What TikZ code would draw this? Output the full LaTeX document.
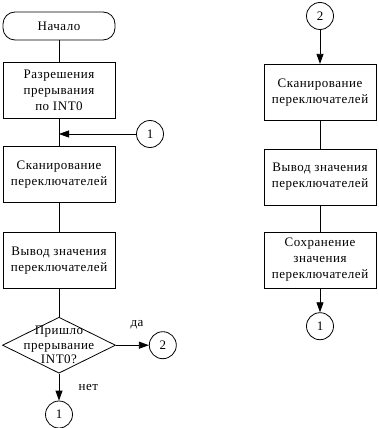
\documentclass[tikz,border=0pt]{standalone}
\usepackage{fontspec}
\setmainfont{Liberation Serif}[LetterSpace=4]
\usetikzlibrary{shapes.geometric,arrows.meta,positioning}

\begin{document}
\begin{tikzpicture}[x=1pt, y=1pt,
      node distance=27pt,
      every node/.style={font=\fontsize{13}{16}\selectfont},
      base/.style={draw, line width=0.8pt, minimum width=112pt,
                  align=center, inner sep=2pt},
      term/.style={base, rounded corners=12pt, minimum height=28pt},
      proc/.style={base, minimum height=56pt},
      decide/.style={draw, diamond, line width=0.8pt, minimum width=113pt,
                  minimum height=56pt, inner sep=0pt},
      conn/.style={draw, circle, line width=0.8pt, minimum size=27pt,
                  inner sep=0pt},
      line/.style={line width=0.8pt},
      arr/.style={line, -{Triangle[length=10pt,width=7pt]}}
    ]
    \useasboundingbox (0,0) rectangle (379,-428);
    \node[term] (start) at (59,-26) {Начало};
    \node[proc, below=22pt of start] (enable) {Разрешения\\прерывания\\по INT0};
    \node[proc, below=of enable] (scanL) {Сканирование\\переключателей};
    \node[proc, below=29pt of scanL] (outL) {Вывод значения\\переключателей};
    \node[decide, below=28pt of outL,
          label={[align=center, font=\fontsize{13}{14.5}\selectfont]center:{Пришло\\прерывание\\INT0?}}] (irq) {};
    \node[conn, right=33pt of irq] (toTwo) {2};
    \node[conn, below=27pt of irq] (toOne) {1};
    \node[conn] (fromOne) at (150,-134) {1};
    \coordinate (join) at (enable.south |- fromOne);
    \node[conn] (fromTwo) at (320,-16) {2};
    \node[proc, below=34pt of fromTwo] (scanR) {Сканирование\\переключателей};
    \node[proc, below=28pt of scanR] (outR) {Вывод значения\\переключателей};
    \node[proc, below=26pt of outR] (saveR) {Сохранение\\значения\\переключателей};
    \node[conn, below=24pt of saveR] (toOneR) {1};
    \draw[line] (start) -- (enable);
    \draw[line] (enable) -- (scanL);
    \draw[arr] (fromOne) -- (join);
    \draw[line] (scanL) -- (outL);
    \draw[line] (outL) -- (irq);
    \draw[arr] (irq) -- node[pos=.64, above=12pt] {да} (toTwo);
    \draw[arr] (irq) -- node[right=16pt] {нет} (toOne);
    \draw[arr] (fromTwo) -- (scanR);
    \draw[line] (scanR) -- (outR);
    \draw[line] (outR) -- (saveR);
    \draw[arr] (saveR) -- (toOneR);
  \end{tikzpicture}
\end{document}
